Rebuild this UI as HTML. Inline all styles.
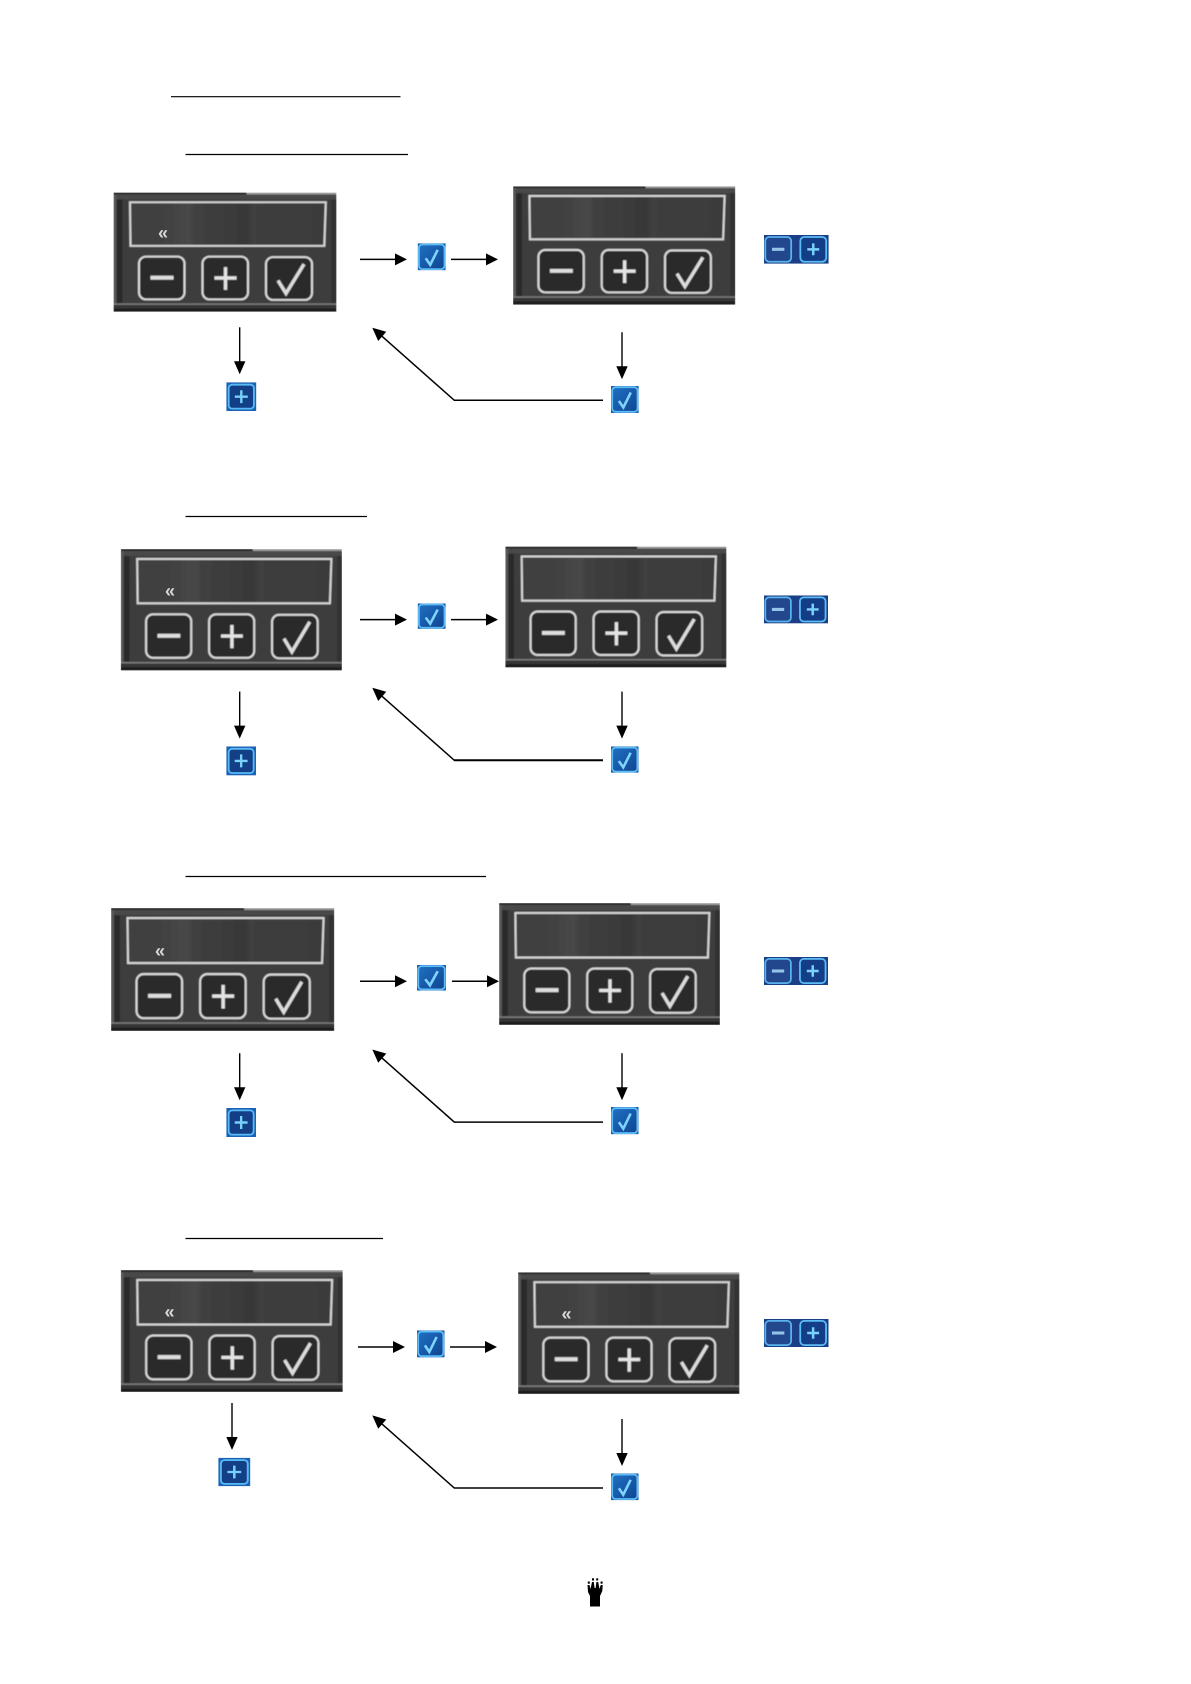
<!DOCTYPE html>
<html><head><meta charset="utf-8"><style>
html,body{margin:0;padding:0;background:#fff}
svg{display:block}
</style></head><body>
<svg xmlns="http://www.w3.org/2000/svg" width="1191" height="1684" viewBox="0 0 1191 1684">
<defs>
<filter id="soft" x="0" y="0" width="100%" height="100%"><feGaussianBlur stdDeviation="0.45"/></filter>
<linearGradient id="band" x1="0" x2="1" y1="0" y2="0">
<stop offset="0" stop-color="#404040"/><stop offset=".2" stop-color="#424242"/><stop offset=".3" stop-color="#484848"/><stop offset=".34" stop-color="#404040"/><stop offset=".6" stop-color="#383838"/><stop offset=".63" stop-color="#3f3f3f"/><stop offset="1" stop-color="#3b3b3b"/>
</linearGradient>
<linearGradient id="blue" x1="0" x2="1" y1="0" y2="1">
<stop offset="0" stop-color="#2070c4"/><stop offset="1" stop-color="#0f4490"/>
</linearGradient>
<symbol id="p" viewBox="0 0 223 120" preserveAspectRatio="none">
<g filter="url(#soft)">
<rect width="223" height="120" fill="#3e3e3e"/>
<rect width="133" height="2" fill="#2c2c2c"/>
<rect x="133" width="90" height="2" fill="#9c9c9c"/>
<rect y="2" width="223" height="5" fill="#484848"/>
<rect y="2" x="0" width="3" height="118" fill="#585858"/>
<rect y="7" x="3" width="6" height="105" fill="#2c2c2c"/>
<rect y="7" x="218" width="5" height="106" fill="#323232"/>
<rect x="9" y="7" width="209" height="105" fill="#3e3e3e"/>
<rect x="16" y="9.3" width="196" height="44" fill="url(#band)"/>
<path d="M16.5 9.8H212.3L210.8 53.7H17Z" fill="none" stroke="#d4d4d4" stroke-width="2.1"/>
<rect x="0" y="111.5" width="223" height="1.6" fill="#7a7a7a"/>
<rect x="0" y="113.1" width="223" height="3.7" fill="#353535"/>
<rect x="0" y="116.8" width="223" height="3.2" fill="#1f1f1f"/>
<rect x="25.5" y="64.5" width="45.5" height="43" rx="7" fill="#2a2a2a" stroke="#d8d8d8" stroke-width="2.1"/>
<rect x="89" y="64.5" width="45.5" height="43" rx="7" fill="#2a2a2a" stroke="#d8d8d8" stroke-width="2.1"/>
<rect x="152.5" y="65" width="46" height="43" rx="7" fill="#2a2a2a" stroke="#d8d8d8" stroke-width="2.1"/>
<rect x="37" y="83.7" width="23" height="4" fill="#dedede"/>
<path d="M101 86H123M112 75V98" stroke="#e4e4e4" stroke-width="3.4" fill="none"/>
<path d="M164.5 88.5L172.5 101.5L190.5 72" stroke="#dcdcdc" stroke-width="3.4" fill="none"/>
</g>
</symbol>
<symbol id="ck" viewBox="0 0 28 27" preserveAspectRatio="none">
<rect width="28" height="27" fill="#1a5ead"/>
<rect x="1.2" y="1.2" width="25.6" height="24.6" rx="3.5" fill="url(#blue)" stroke="#5cbcf6" stroke-width="1.8"/>
<path d="M8 15L12.5 21.5L20 6.5" stroke="#7fd4fb" stroke-width="2.6" fill="none"/>
</symbol>
<symbol id="pl" viewBox="0 0 30 29" preserveAspectRatio="none">
<rect width="30" height="29" fill="#1c62b4"/>
<rect x="2.4" y="2.4" width="25.2" height="24.2" rx="3.5" fill="#123f85" stroke="#58baf6" stroke-width="1.8"/>
<path d="M8.5 14.5H21.5M15 8V21" stroke="#78d0fb" stroke-width="2.4" fill="none"/>
</symbol>
<symbol id="pr" viewBox="0 0 65 29" preserveAspectRatio="none">
<rect width="65" height="29" fill="#1b3f84"/>
<rect x="1.3" y="2" width="26" height="25" rx="4" fill="#22478c" stroke="#5ab2ee" stroke-width="1.8"/>
<rect x="36.5" y="2" width="26" height="25" rx="4" fill="#143d88" stroke="#5cbcf6" stroke-width="1.8"/>
<path d="M8 14.5H20.5" stroke="#93c5e8" stroke-width="3.2" fill="none"/>
<path d="M43.5 14.5H55.5M49.5 8.5V20.5" stroke="#7ad2fb" stroke-width="2.5" fill="none"/>
</symbol>
<g id="ar"><path d="M0 0H36" stroke="#000" stroke-width="1.5"/><polygon points="35,-6 47,0 35,6" fill="#000"/></g>
<g id="da"><path d="M0 0V36" stroke="#000" stroke-width="1.4"/><polygon points="-5.7,34 5.7,34 0,47" fill="#000"/></g>
<g id="dg"><path d="M603 400.3H454.3L380 334.5" stroke="#000" stroke-width="1.5" fill="none"/><polygon points="372.3,327.7 378.2,341 386.3,331.8" fill="#000"/></g>
</defs>

<!-- underlines -->
<g stroke="#000" stroke-width="1.2">
<path d="M171 96.7H400.5"/>
<path d="M185.5 154.5H408"/>
<path d="M185.5 516.5H367"/>
<path d="M185.5 876.5H486"/>
<path d="M185.5 1238.5H383"/>
</g>

<!-- panels -->
<use href="#p" x="113.5" y="192.5" width="223" height="119.3"/>
<use href="#p" x="513" y="186.3" width="222.3" height="118.4"/>
<use href="#p" x="120.8" y="549" width="221.2" height="121.5"/>
<use href="#p" x="505.3" y="546.5" width="221.2" height="121"/>
<use href="#p" x="111" y="908" width="223.3" height="123"/>
<use href="#p" x="499" y="903" width="221" height="122"/>
<use href="#p" x="120.8" y="1270" width="222" height="122"/>
<use href="#p" x="518" y="1272.3" width="221.5" height="121.7"/>

<!-- chevrons -->
<g font-family="'Liberation Sans',sans-serif" font-size="18" font-weight="bold" fill="#d8d8d8" text-anchor="middle">
<text x="163" y="239">«</text>
<text x="170" y="597">«</text>
<text x="160" y="957">«</text>
<text x="169.5" y="1318">«</text>
<text x="566.5" y="1320">«</text>
</g>

<!-- row 1 -->
<use href="#ar" x="360" y="259.4"/><use href="#ar" x="451" y="259.4"/>
<use href="#ck" x="417.7" y="243.3" width="28" height="27"/>
<use href="#pr" x="764" y="235" width="64.7" height="28.7"/>
<use href="#da" x="239.7" y="327.3"/>
<use href="#pl" x="226.3" y="382.3" width="30" height="28.7"/>
<use href="#dg"/>
<use href="#da" x="622" y="332.3"/>
<use href="#ck" x="611" y="386" width="27.7" height="27"/>

<!-- row 2 -->
<use href="#ar" x="360" y="619.6"/><use href="#ar" x="451" y="619.6"/>
<use href="#ck" x="417.7" y="603.4" width="28" height="25.5"/>
<use href="#pr" x="764" y="595.4" width="64" height="28"/>
<use href="#da" x="239.7" y="691.6"/>
<use href="#pl" x="226.3" y="746.4" width="29.7" height="29"/>
<use href="#dg" y="360"/>
<path d="M603 760.3H454" stroke="#000" stroke-width="2"/>
<use href="#da" x="622" y="691.6"/>
<use href="#ck" x="611" y="746.4" width="27.5" height="26.4"/>

<!-- row 3 -->
<use href="#ar" x="360" y="981.2"/><use href="#ar" x="452" y="981.2"/>
<use href="#ck" x="417" y="965" width="29" height="25.5"/>
<use href="#pr" x="764" y="957" width="64" height="28"/>
<use href="#da" x="239.7" y="1053.2"/>
<use href="#pl" x="226.3" y="1108" width="29.7" height="29"/>
<use href="#dg" y="721.8"/>
<use href="#da" x="622" y="1053.2"/>
<use href="#ck" x="611" y="1107" width="27.5" height="27.3"/>

<!-- row 4 -->
<use href="#ar" x="358" y="1347"/><use href="#ar" x="450" y="1347"/>
<use href="#ck" x="417" y="1330.4" width="27.5" height="27"/>
<use href="#pr" x="764" y="1319" width="64.5" height="28"/>
<use href="#da" x="232" y="1403"/>
<use href="#pl" x="218.3" y="1457.8" width="32" height="28.4"/>
<use href="#dg" y="1087.7"/>
<use href="#da" x="622" y="1419"/>
<use href="#ck" x="611" y="1473.4" width="27.5" height="26.8"/>

<!-- hand -->
<g fill="#000">
<rect x="590" y="1595" width="10" height="11.5"/>
<path d="M587.5 1585H589.5L590.5 1589L592 1582H593.8L594.6 1588H595.6L596.4 1582H598.2L599.5 1589L600.7 1585H602.7L602.3 1591L600 1596H590L588 1592Z"/>
<rect x="592" y="1578.3" width="2" height="2.2"/><rect x="596.2" y="1578.3" width="2" height="2.2"/>
<rect x="587.8" y="1581.5" width="2" height="2.2"/><rect x="600.6" y="1581.5" width="2" height="2.2"/>
</g>
</svg>
</body></html>
